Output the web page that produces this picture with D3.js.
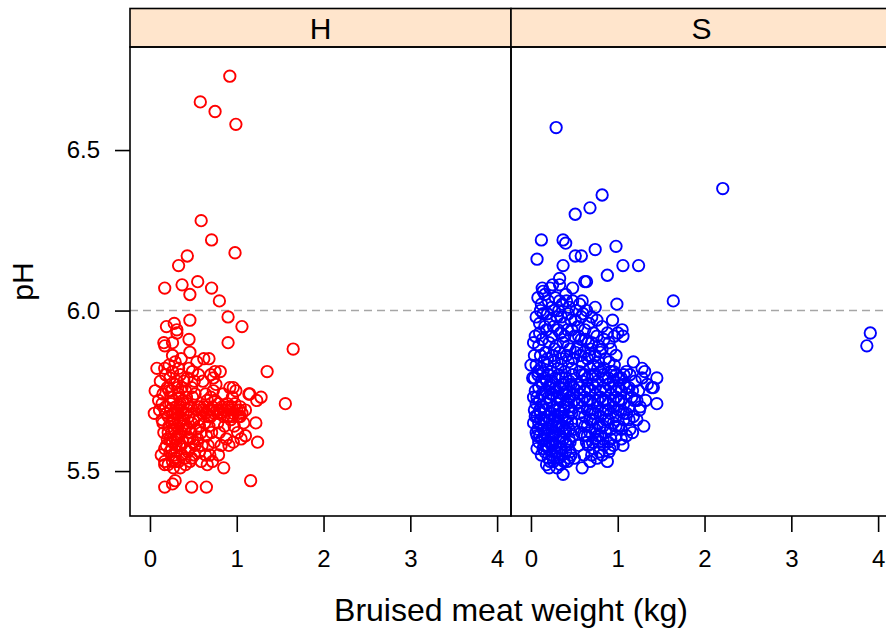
<!DOCTYPE html>
<html>
<head>
<meta charset="utf-8">
<script src="https://cdn.jsdelivr.net/npm/d3@7"></script>
<style>
  body { margin: 0; background: white; }
  svg { display: block; font-family: "Liberation Sans", Arial, sans-serif; }
</style>
</head>
<body>
<svg id="canvas" width="886" height="629"></svg>
<script>
// ************************************************************************************************** //
// Data (weight in kg, pH)

var panels = ['H', 'S'];
var panelColors = ['#ff0000', '#0000ff'];
var xTicks = [0, 1, 2, 3, 4];
var yTicks = [5.5, 6.0, 6.5];
var yTickLabels = ['5.5', '6.0', '6.5'];
var refLine = 6.0;

var hPoints = [
  [0.92,6.73],[0.58,6.65],[0.75,6.62],[0.99,6.58],[0.59,6.28],[0.71,6.22],[0.98,6.18],[0.43,6.17],
  [0.33,6.14],[0.17,6.07],[0.37,6.08],[0.55,6.09],[0.46,6.05],[0.71,6.07],[0.80,6.03],[0.90,5.98],
  [1.06,5.95],[0.46,5.97],[0.19,5.95],[0.28,5.96],[0.31,5.94],[0.45,5.91],[0.90,5.90],[1.65,5.88],
  [0.16,5.90],[0.17,5.89],[0.26,5.90],[0.68,5.85],[1.35,5.81],[0.08,5.82],[1.56,5.71],[1.16,5.47],
  [0.17,5.45],[0.26,5.46],[0.29,5.47],[0.48,5.45],[0.65,5.45],[1.24,5.59],[1.22,5.65],[1.10,5.61],
  [1.23,5.72],[1.28,5.73],[1.14,5.74],[0.96,5.59],[0.85,5.51],[0.96,5.76],[0.81,5.81],[0.75,5.81],
  [0.31,5.93],[0.17,5.82],[0.73,5.79],[0.92,5.76],[1.15,5.74],[0.06,5.75],[0.10,5.72],[0.05,5.68],
  [1.04,5.67],[0.17,5.52],[0.26,5.53],[0.46,5.53],
  [0.12,5.78],[0.15,5.74],[0.18,5.70],[0.14,5.66],[0.16,5.62],[0.19,5.58],[0.13,5.55],[0.17,5.53],
  [0.20,5.60],[0.11,5.69],[0.18,5.80],[0.20,5.76],[0.15,5.65],[0.19,5.68],[0.17,5.57],[0.21,5.52],
  [0.22,5.83],[0.14,5.71],
  [0.23,5.79],[0.25,5.75],[0.27,5.72],[0.24,5.69],[0.26,5.66],[0.28,5.63],[0.23,5.60],[0.25,5.57],
  [0.29,5.54],[0.27,5.51],[0.22,5.64],[0.30,5.70],[0.24,5.73],[0.28,5.77],[0.26,5.81],[0.29,5.60],
  [0.21,5.67],[0.30,5.58],[0.25,5.62],[0.27,5.68],[0.23,5.56],[0.29,5.84],[0.30,5.53],[0.26,5.86],
  [0.28,5.66],
  [0.31,5.78],[0.33,5.74],[0.35,5.71],[0.32,5.68],[0.34,5.65],[0.36,5.62],[0.38,5.59],[0.31,5.56],
  [0.33,5.53],[0.37,5.55],[0.39,5.66],[0.35,5.80],[0.37,5.76],[0.32,5.61],[0.34,5.58],[0.36,5.69],
  [0.38,5.72],[0.40,5.63],[0.31,5.64],[0.39,5.78],[0.33,5.82],[0.36,5.85],[0.40,5.54],[0.35,5.51],
  [0.38,5.68],
  [0.41,5.75],[0.43,5.71],[0.45,5.67],[0.42,5.64],[0.44,5.60],[0.46,5.57],[0.48,5.54],[0.41,5.52],
  [0.47,5.70],[0.49,5.73],[0.43,5.79],[0.45,5.82],[0.47,5.62],[0.42,5.68],[0.50,5.66],[0.44,5.56],
  [0.48,5.76],[0.46,5.87],[0.50,5.59],[0.49,5.81],
  [0.52,5.74],[0.54,5.69],[0.56,5.66],[0.53,5.63],[0.55,5.60],[0.57,5.56],[0.59,5.53],[0.51,5.78],
  [0.58,5.70],[0.60,5.68],[0.56,5.80],[0.52,5.58],[0.54,5.84],[0.59,5.62],[0.51,5.55],
  [0.62,5.70],[0.64,5.68],[0.66,5.72],[0.68,5.69],[0.70,5.67],[0.72,5.70],[0.74,5.68],[0.63,5.65],
  [0.65,5.61],[0.67,5.58],[0.69,5.55],[0.71,5.62],[0.73,5.75],[0.61,5.78],[0.75,5.72],[0.66,5.52],
  [0.62,5.85],[0.70,5.80],[0.68,5.64],[0.74,5.59],[0.72,5.53],
  [0.77,5.69],[0.79,5.71],[0.81,5.68],[0.83,5.70],[0.85,5.67],[0.87,5.69],[0.89,5.71],[0.78,5.65],
  [0.80,5.62],[0.82,5.58],[0.84,5.74],[0.86,5.64],[0.88,5.60],[0.76,5.77],[0.79,5.55],[0.90,5.67],
  [0.92,5.69],[0.94,5.70],[0.96,5.68],[0.98,5.71],[1.00,5.69],[1.02,5.67],[1.04,5.70],[1.06,5.68],
  [0.93,5.66],[0.95,5.73],[0.97,5.64],[1.01,5.62],[1.08,5.65],[0.99,5.75],[1.05,5.60],[1.10,5.69],
  [0.91,5.58],
  [0.24,5.71],[0.29,5.68],[0.34,5.70],[0.39,5.71],[0.44,5.69],[0.26,5.59],[0.31,5.60],[0.36,5.58],
  [0.41,5.57],[0.46,5.60],[0.22,5.75],[0.32,5.76],[0.42,5.73],[0.28,5.55],[0.38,5.64],[0.48,5.65],
  [0.21,5.62],[0.35,5.66],[0.45,5.63],[0.25,5.65],
  [0.55,5.70],[0.61,5.69],[0.67,5.67],[0.73,5.69],[0.78,5.68],[0.84,5.69],[0.90,5.70],[0.95,5.67],
  [1.03,5.69],[0.64,5.74],[0.70,5.73],[0.60,5.58],[0.64,5.55],[0.57,5.64]
];

var sPoints = [
  [0.29,6.57],[2.21,6.38],[0.82,6.36],[0.68,6.32],[0.51,6.30],[0.12,6.22],[0.37,6.22],[0.40,6.21],
  [0.07,6.16],[0.51,6.17],[0.58,6.17],[0.74,6.19],[0.98,6.20],[0.37,6.14],[1.06,6.14],[1.24,6.14],
  [0.88,6.11],[0.33,6.10],[0.64,6.09],[0.62,6.09],[1.64,6.03],[0.99,6.02],[3.91,5.93],[3.87,5.89],
  [0.13,6.07],[0.14,6.06],[0.22,6.07],[0.25,6.08],[0.33,6.08],[0.48,6.07],[0.59,6.03],[0.33,6.03],
  [0.41,6.03],[0.74,6.01],[1.45,5.79],[1.45,5.71],[1.30,5.64],[1.06,5.58],[0.07,5.57],[0.37,5.49],
  [0.21,5.51],[0.30,5.51],[0.59,5.51],[0.68,5.53],[0.79,5.56],[0.91,5.57],[1.31,5.81],[1.28,5.82],
  [1.39,5.76],[1.41,5.76],[1.18,5.84],[1.05,5.94],[1.06,5.92],[0.94,5.97],[0.00,5.83],[0.02,5.79],
  [0.05,5.67],[0.07,5.61],
  [0.08,6.04],[0.12,6.02],[0.16,6.05],[0.20,6.03],[0.24,6.01],[0.28,6.04],[0.32,6.00],[0.36,6.02],
  [0.40,6.05],[0.44,6.01],[0.48,6.03],[0.52,6.00],[0.56,6.02],[0.60,5.99],[0.64,6.00],[0.70,5.98],
  [0.76,5.97],[0.82,5.95],
  [0.06,5.98],[0.10,5.96],[0.14,5.99],[0.18,5.94],[0.22,5.97],[0.26,5.95],[0.30,5.98],[0.34,5.93],
  [0.38,5.96],[0.42,5.94],[0.46,5.97],[0.50,5.92],[0.54,5.95],[0.58,5.91],[0.62,5.94],[0.66,5.90],
  [0.72,5.93],[0.78,5.89],[0.84,5.91],[0.88,5.93],[0.90,5.90],[0.96,5.92],[1.00,5.93],
  [0.05,5.92],[0.09,5.89],[0.13,5.91],[0.17,5.87],[0.21,5.90],[0.25,5.86],[0.29,5.89],[0.33,5.87],
  [0.37,5.90],[0.41,5.86],[0.45,5.88],[0.49,5.85],[0.53,5.88],[0.57,5.86],[0.61,5.87],[0.65,5.85],
  [0.69,5.88],[0.74,5.86],[0.80,5.87],[0.86,5.85],[0.92,5.88],[0.98,5.86],
  [0.06,5.83],[0.11,5.82],[0.15,5.84],[0.19,5.83],[0.23,5.81],[0.27,5.84],[0.31,5.82],[0.35,5.83],
  [0.39,5.81],[0.43,5.84],[0.47,5.82],
  [0.04,5.79],[0.08,5.80],[0.12,5.78],[0.16,5.79],[0.20,5.80],[0.24,5.78],[0.28,5.79],[0.32,5.80],
  [0.36,5.77],[0.40,5.79],[0.44,5.78],[0.48,5.80],
  [0.05,5.75],[0.09,5.76],[0.13,5.74],[0.17,5.75],[0.21,5.76],[0.25,5.74],[0.29,5.75],[0.33,5.76],
  [0.37,5.74],[0.41,5.75],[0.45,5.73],[0.49,5.76],
  [0.06,5.71],[0.10,5.72],[0.14,5.70],[0.18,5.71],[0.22,5.72],[0.26,5.70],[0.30,5.71],[0.34,5.72],
  [0.38,5.70],[0.42,5.71],[0.46,5.69],[0.50,5.72],
  [0.07,5.67],[0.11,5.68],[0.15,5.66],[0.19,5.67],[0.23,5.68],[0.27,5.66],[0.31,5.67],[0.35,5.68],
  [0.39,5.66],[0.43,5.67],[0.47,5.65],
  [0.08,5.63],[0.12,5.64],[0.16,5.62],[0.20,5.63],[0.24,5.64],[0.28,5.62],[0.32,5.63],[0.36,5.64],
  [0.40,5.62],[0.44,5.63],[0.48,5.61],
  [0.09,5.59],[0.13,5.60],[0.17,5.58],[0.21,5.59],[0.25,5.60],[0.29,5.58],[0.33,5.59],[0.37,5.60],
  [0.41,5.58],[0.45,5.59],
  [0.12,5.55],[0.16,5.56],[0.20,5.54],[0.24,5.55],[0.28,5.56],[0.32,5.54],[0.36,5.55],[0.40,5.56],
  [0.44,5.54],
  [0.18,5.52],[0.26,5.53],[0.34,5.52],[0.42,5.53],[0.50,5.54],
  [0.14,5.81],[0.22,5.77],[0.30,5.73],[0.38,5.69],[0.18,5.65],[0.26,5.61],[0.34,5.57],[0.10,5.69],
  [0.20,5.73],[0.28,5.67],[0.36,5.79],[0.44,5.70],[0.16,5.60],[0.24,5.58],[0.32,5.65],[0.40,5.74],
  [0.12,5.66],[0.46,5.77],
  [0.08,5.81],[0.13,5.77],[0.18,5.78],[0.23,5.74],[0.28,5.76],[0.33,5.73],[0.38,5.77],[0.43,5.72],
  [0.48,5.74],[0.07,5.73],[0.12,5.70],[0.17,5.69],[0.22,5.66],[0.27,5.69],[0.32,5.69],[0.37,5.67],
  [0.42,5.65],[0.47,5.68],[0.09,5.65],[0.14,5.63],[0.19,5.61],[0.24,5.62],[0.29,5.64],[0.34,5.61],
  [0.39,5.63],[0.44,5.60],[0.49,5.63],[0.10,5.61],[0.15,5.58],[0.20,5.57],[0.25,5.58],[0.30,5.56],
  [0.35,5.57],[0.40,5.59],[0.45,5.56],[0.14,5.57],[0.22,5.53],[0.30,5.54],[0.38,5.53],[0.46,5.55],
  [0.03,5.73],[0.04,5.69],[0.03,5.65],[0.06,5.62],[0.04,5.86],[0.03,5.90],
  [0.10,5.93],[0.16,5.95],[0.24,5.92],[0.31,5.94],[0.39,5.92],[0.47,5.94],[0.55,5.92],[0.63,5.91],
  [0.70,5.90],[0.76,5.92],[0.82,5.88],
  [0.11,5.86],[0.19,5.85],[0.27,5.88],[0.35,5.85],[0.43,5.89],[0.51,5.87],[0.59,5.84],[0.67,5.86],
  [0.72,5.83],[0.78,5.84],[0.84,5.82],[0.90,5.84],[0.96,5.83],
  [0.11,6.00],[0.19,5.99],[0.27,6.00],[0.35,5.98],[0.43,5.99],[0.51,5.97],[0.58,5.98],[0.67,5.96],
  [0.56,5.81],[0.62,5.80],[0.68,5.82],[0.74,5.80],[0.80,5.81],[0.86,5.79],[0.92,5.81],[0.98,5.80],
  [1.04,5.79],[1.10,5.81],
  [0.53,5.77],[0.59,5.78],[0.65,5.76],[0.71,5.77],[0.77,5.78],[0.83,5.76],[0.89,5.77],[0.95,5.78],
  [1.01,5.76],[1.07,5.77],[1.13,5.76],[1.20,5.78],
  [0.56,5.74],[0.62,5.73],[0.68,5.75],[0.74,5.74],[0.80,5.73],[0.86,5.75],[0.92,5.74],[0.98,5.73],
  [1.04,5.75],[1.10,5.74],[1.16,5.73],[1.24,5.75],
  [0.53,5.71],[0.59,5.70],[0.65,5.72],[0.71,5.71],[0.77,5.70],[0.83,5.72],[0.89,5.71],[0.95,5.70],
  [1.01,5.72],[1.07,5.71],[1.13,5.70],[1.19,5.72],
  [0.56,5.68],[0.62,5.67],[0.68,5.69],[0.74,5.68],[0.80,5.67],[0.86,5.69],[0.92,5.68],[0.98,5.67],
  [1.04,5.69],[1.10,5.68],[1.18,5.67],
  [0.59,5.65],[0.65,5.64],[0.71,5.66],[0.77,5.65],[0.83,5.64],[0.89,5.66],[0.95,5.65],[1.01,5.64],
  [1.07,5.66],[1.14,5.63],
  [0.62,5.61],[0.68,5.62],[0.74,5.60],[0.80,5.61],[0.86,5.62],[0.92,5.60],[0.98,5.61],[1.04,5.60],
  [0.66,5.58],[0.72,5.57],[0.78,5.59],[0.84,5.58],[0.90,5.56],
  [0.58,5.62],[0.64,5.59],[0.70,5.55],[0.76,5.54],[0.82,5.55],[0.88,5.53],[0.55,5.58],[0.61,5.55],
  [0.59,5.80],[0.65,5.79],[0.71,5.80],[0.77,5.82],[0.83,5.80],[0.89,5.79],[0.95,5.81],[1.01,5.79],
  [1.07,5.80],[1.14,5.80],
  [0.56,5.76],[0.62,5.75],[0.68,5.72],[0.74,5.76],[0.80,5.75],[0.86,5.72],[0.92,5.76],[0.98,5.75],
  [1.04,5.72],[1.10,5.76],[1.17,5.75],[1.22,5.72],
  [0.59,5.72],[0.65,5.69],[0.71,5.68],[0.77,5.72],[0.83,5.68],[0.89,5.69],[0.95,5.72],[1.01,5.69],
  [1.07,5.68],[1.13,5.66],
  [0.62,5.64],[0.68,5.66],[0.74,5.63],[0.80,5.64],[0.86,5.66],[0.92,5.63],[0.98,5.64],[1.04,5.63],
  [1.10,5.61],[0.65,5.61],[0.71,5.59],[0.77,5.61],[0.83,5.60],[0.89,5.59],[0.95,5.58],
  [1.28,5.79],[1.34,5.77],[1.26,5.70],[1.32,5.72],[1.22,5.66],[1.17,5.62],[1.25,5.69]
];

var panelData = [hPoints, sPoints];

// ************************************************************************************************** //
// Layout

var left = 130, panelW = 381, stripTop = 8.5, stripH = 38.5, panelTop = 47, panelH = 469;

var xScale = d3.scaleLinear().domain([-0.23, 4.16]).range([0, panelW]);
var yScale = d3.scaleLinear().domain([5.36, 6.821]).range([panelH, 0]);

var svg = d3.select('#canvas');

// ************************************************************************************************** //
// Panels

panels.forEach(function(name, i){
  var px = left + i*panelW;

  var strip = svg.append('g').attr('transform', 'translate(' + px + ',' + stripTop + ')');
  strip.append('rect').attr('width', panelW).attr('height', stripH)
    .style('fill', '#ffe5cc').style('stroke', 'black').style('stroke-width', 1.6);
  strip.append('text').attr('x', panelW/2).attr('y', stripH/2 + 11)
    .attr('text-anchor', 'middle').style('font-size', '30px').text(name);

  var g = svg.append('g').attr('transform', 'translate(' + px + ',' + panelTop + ')');

  g.append('line').attr('x1', 0).attr('x2', panelW)
    .attr('y1', yScale(refLine)).attr('y2', yScale(refLine))
    .style('stroke', '#a6a6a6').style('stroke-width', 1.6).style('stroke-dasharray', '8,5');

  g.selectAll('circle').data(panelData[i]).enter().append('circle')
    .attr('cx', function(d){ return xScale(d[0]); })
    .attr('cy', function(d){ return yScale(d[1]); })
    .attr('r', 5.7)
    .style('fill', 'none').style('stroke', panelColors[i]).style('stroke-width', 1.9);

  g.append('rect').attr('width', panelW).attr('height', panelH)
    .style('fill', 'none').style('stroke', 'black').style('stroke-width', 1.6);

  // x axis
  var xAxis = g.append('g').attr('transform', 'translate(0,' + panelH + ')')
    .call(d3.axisBottom(xScale).tickValues(xTicks).tickFormat(d3.format('d')).tickSize(16).tickPadding(18));
  xAxis.select('.domain').remove();
  xAxis.selectAll('line').style('stroke', 'black').style('stroke-width', 1.6);
  xAxis.selectAll('text').style('font-size', '24px').style('font-family', '"Liberation Sans", Arial, sans-serif').attr('fill', 'black');

  // y axis on first panel
  if(i === 0){
    var yAxis = g.append('g')
      .call(d3.axisLeft(yScale).tickValues(yTicks).tickFormat(function(d, j){ return yTickLabels[j]; }).tickSize(15).tickPadding(15));
    yAxis.select('.domain').remove();
    yAxis.selectAll('line').style('stroke', 'black').style('stroke-width', 1.6);
    yAxis.selectAll('text').style('font-size', '24px').style('font-family', '"Liberation Sans", Arial, sans-serif').attr('fill', 'black');
  }
});

// ************************************************************************************************** //
// Axis titles

svg.append('text').attr('x', left + panelW).attr('y', 621)
  .attr('text-anchor', 'middle').style('font-size', '32px').text('Bruised meat weight (kg)');

svg.append('text').attr('transform', 'translate(33,' + (panelTop + panelH/2) + ') rotate(-90)')
  .attr('text-anchor', 'middle').style('font-size', '30px').text('pH');
</script>
